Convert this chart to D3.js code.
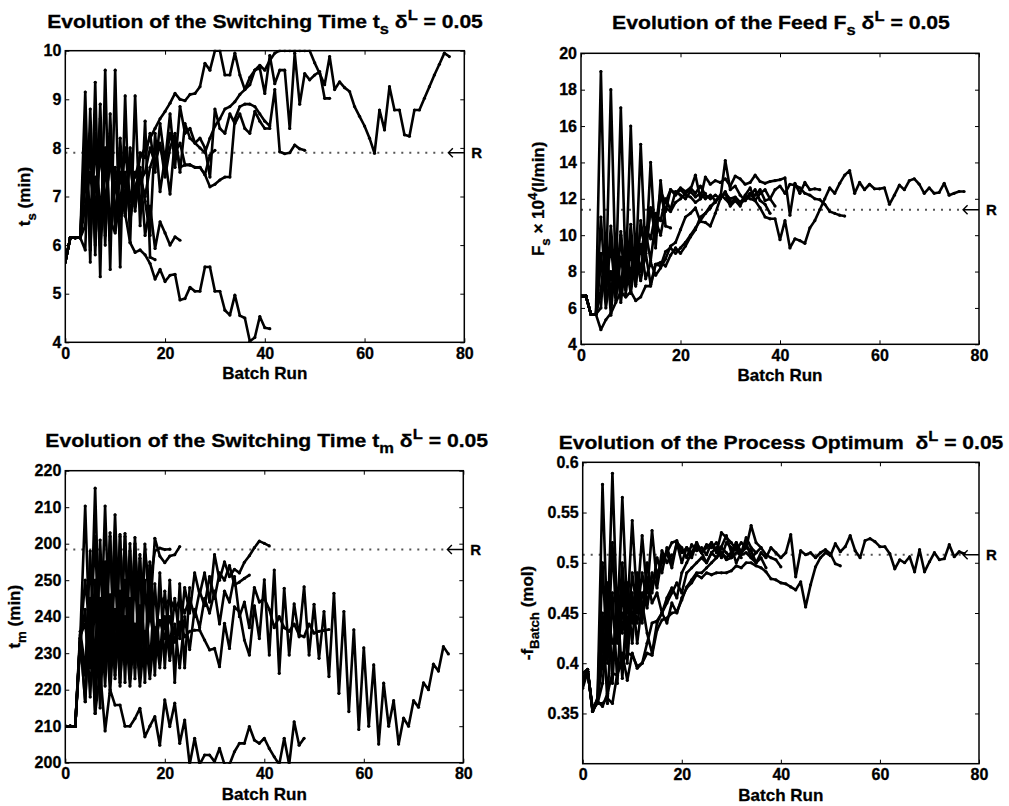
<!DOCTYPE html>
<html>
<head>
<meta charset="utf-8">
<script src="https://cdn.jsdelivr.net/npm/d3@7"></script>
<style>
body { margin: 0; background: #fff; }
text { white-space: pre; stroke: #000; stroke-width: 0.3px; }
</style>
</head>
<body>
<script>
// ---- data: one array per run, index = batch run ----
const tsRuns = [
  [5.65,6.15,6.15,6.15, 9.15,5.65,9.35,5.35,9.6,5.5,9.6,5.55,9.07,6.05,9.07,6.4, 8.55,5.75,5.7],
  [5.65,6.15,6.15,6.15, 6.4,8.3,6.0,8.6,6.2,8.3,6.4,8.0,6.6,7.8,6.7,7.6, 6.2,6.8,5.93,6.48,6.25,6.0,6.17,6.1],
  [5.65,6.15,6.15,6.15, 7.6,6.3,7.4,6.0,7.1,6.5,6.25,7.0,6.65,6.05,5.85,5.9, 5.8,5.62,5.3,5.5,5.25,5.38,5.4,4.87,4.9,5.13,5.05,5.05,5.55,5.55,5.05,5.05,4.66,4.56,4.97,4.55,4.5,4.02,4.1,4.53,4.3,4.28],
  [5.65,6.15,6.15,6.15, 8.1,6.5,8.3,6.6,8.0,6.4,7.6,6.8,8.0,6.9,7.5,7.3, 7.5,8.0,7.7,8.05,7.6,8.3,7.9,8.1,7.65,7.65,7.6,7.6,7.45,7.2,7.25,7.34,7.4,7.4, 8.6,8.85,8.9,8.9,8.85,8.7,8.55,8.45,9.2,7.92,7.88,7.9,8.06,7.98,7.95],
  [5.65,6.15,6.15,6.15, 5.9,8.8,5.8,8.9,6.0,8.7,6.3,8.2,6.6,8.0,6.9,7.9, 7.8,8.3,7.5,8.5,7.7,8.7,7.6,8.85,8.3,8.4,8.1,8.0,7.9,8.2,8.45,8.6,8.8,8.85,8.95,9.1,9.2, 9.3,9.6,9.64,9.12,9.9,9.32,9.6,9.6,8.4,9.95,8.9,9.53,9.4,9.5,9.57,9.02,9.02],
  [5.65,6.15,6.15,6.15, 7.2,7.8,6.7,7.9,6.9,7.7,7.1,7.5,7.2,7.6,7.4,7.8, 8.0,8.2,8.4,8.6,8.75,8.92,9.12,9.0,8.97,9.1,9.12,9.26,9.74,9.6,10,10,9.5,9.5,9.95,9.5,9.2,9.45,9.6,9.7,9.6,9.8,9.95,10,10,10,10,10,10,10,9.75,9.53,9.3,9.88,9.2,9.36,9.24,9.16,8.85,8.65,8.45,8.2,7.89,8.78,8.37,9.26,8.78,8.78,8.27,8.24,8.78,8.78,9.02,9.26,9.5,9.72,9.95,9.88],
  [5.65,6.15,6.15,6.15, 6.8,7.5,6.4,8.0,6.8,7.8,6.6,7.4,7.0,7.7,6.8,7.4, 7.0,7.6,7.9,8.1,7.4,8.0,8.3,7.5,8.5,8.2,8.1,8.2,8.0,7.4,8.8,8.4,8.3,8.7,8.5,8.7,8.4,8.3,8.75,8.55,8.4,8.4],
  [5.65,6.15,6.15,6.15, 8.4,5.9,8.2,6.3,7.7,6.1,7.3,6.6,7.5,6.5,7.2,7.5, 6.9,6.2,8.3,7.1,7.8,7.05,8.2,7.6,7.65,7.65,7.6,7.6,7.45,7.85,7.95]
];

const fsRuns = [
  [6.65,6.65,5.65,5.65, 19.0,7.2,18.0,7.5,17.0,7.9,16.0,8.2,15.0,8.8,14.0,9.3, 13.0,10.5,10.4],
  [6.65,6.65,5.65,5.65, 11.0,6.7,10.5,7.0,10.2,7.4,10.6,7.3,10.8,9.0,11.5,10.0, 12.2,11.3,12.5,12.3,12.6,12.4,12.6,12.3,12.7,12.2,12.0,12.2,12.0,12.4,11.8,12.0,11.8,12.1,12.0,11.9],
  [6.65,6.65,5.65,5.65, 4.8,5.35,5.7,6.3,6.9,6.6,6.9,6.4,6.6,7.2,7.2,8.4, 8.3,9.1,9.3,9.0,9.3,9.6,10.0,10.4,10.8,11.2,11.5,11.9,12.1,12.3,12.0,12.1,11.8,12.0,12.3,11.9,11.5,11.0,10.9,10.9,9.75,10.8,9.3,9.8,9.7,9.55,10.4,10.8,11.4,12.0,12.6,12.3,12.85,13.3,13.55,12.3,12.9,12.5,12.8,12.55,12.55,12.6,11.7,12.2,12.75,12.5,13.0,13.1,12.8,12.3,12.6,12.3,12.35,12.85,12.2,12.3,12.4,12.4],
  [6.65,6.65,5.65,5.65, 7.0,9.5,5.6,9.0,6.3,8.5,6.8,8.8,7.5,9.0,7.3,8.4, 8.5,8.3,8.9,9.3,9.0,9.4,9.9,10.3,11.0,11.2,11.6,11.8,12.2,12.0,11.7,11.9,11.6,12.2,12.6,11.9,12.3,12.5,12.0,12.5,12.7,12.3,12.8,12.75,12.6,12.3,12.2,12.0,11.95,11.7,11.3,11.2,11.1,11.05],
  [6.65,6.65,5.65,5.65, 6.0,10.0,6.5,9.5,7.0,9.8,7.4,9.5,8.0,10.2,8.6,10.8, 10.0,11.5,11.3,11.8,12.0,12.3,12.5,13.3,12.0,13.2,12.8,13.0,12.9,13.1,12.7,13.25,13.1,12.8,12.9,13.3,12.95,12.85,12.95,13.0,13.05,13.15,11.1,12.85,12.3,12.9,12.5,12.55,12.5],
  [6.65,6.65,5.65,5.65, 8.5,7.0,9.5,6.6,10.0,6.8,9.2,7.2,9.5,7.6,8.5,7.8, 8.2,8.7,9.4,9.6,10.3,11.0,11.2,11.5,10.75,10.7,10.5,11.2,12.0,14.1,12.5,12.7,12.2,11.9,12.3,12.2,12.5,11.9,12.0,11.6],
  [6.65,6.65,5.65,5.65, 9.0,6.0,8.0,6.4,8.8,7.0,9.8,8.0,10.4,9.2,11.5,10.5, 12.4,11.8,12.5,12.2,12.5,12.2,12.1,11.8,12.0,12.3],
  [6.65,6.65,5.65,5.65, 6.8,8.2,6.9,7.8,7.5,8.6,8.0,9.5,9.0,10.4,9.8,11.2, 10.8,12.0,11.4,12.4,12.2,12.0,12.4,12.1,12.3,12.0,12.2,11.9,12.1,12.3,11.6,11.9,11.8,11.9,12.2,12.5,11.9,11.7,11.2]
];

// t_m runs are stored on the plotted scale 200..280 (tick labels below wrap)
const tmRuns = [
  [210,210,210, 234,270.3,230,275.2,228,270.3,230,267.9,232,262.8,233,261.7,235,259.9,240,261.5,256.6,254.8,256.6,257,259.2],
  [210,210,210, 234,216.7,245,213.5,225,208.7,220,215.8,215.8,210,210,212.1,214.9,207.1,210,212.6,204.8,217.2,209.9,216.3,205.3,211.7,199.5,206.7,199.5,202.1,202.1,200.3,203.9,199.5,199.5,203.0,205.3,205.3,209.9,206.2,205.3,206.7,203.9,201.6,199.5,206.7,199.5,211.2,204.8,206.7],
  [210,210,210, 234,250,235,262,224,255,226,260,228,262,226,260,230,257,249,258,258.8,258.4,258.5],
  [210,210,210, 232,224,258,221,261,226,262,223,262.5,228,260,226,257,228,255,232,246,243,245,242,244.5,241,245,240,247,243,251,245,252,250,254,248.7,249.5,250.5,251.4],
  [210,210,210, 235,238,226,250,222,252,224,254,221,250,223,252,224,250,226,249,228,247,231,245,234,248,241,252,246,252,244,257,250,255,251,253,252,254.9,256.7,258.9,260.7,260.1,259.4],
  [210,210,210, 233,242,218,246,215,244,219,242,222,240,221,238,221,236,223,237,226,240,228,238,226,240,231,242,237,245,241,247,238,247,244,251,240,244,237,248,244,245,242,237,240,237,236,238,235,234.5,238,235.5,236,236.2,236.5],
  [210,210,210, 234.3,216.7,242,213.5,245,221,246,224,247,227,245,229,243,231,241,232.5,239,234,240,233,238.5,234.5,236,236.3,236.3,233.6,230.9,231.3,226.3,238.2,231.3,242.7,241.3,233.6,229.5,243,234,250.1,229.5,252.8,224.5,247.8,229.5,243.5,234.5,248.2,229.5,243.4,228.6,241.4,223.6,246.4,219,241.4,214,236.4,209.1,231.5,210,226.8,205.1,221.8,210,217,205.1,212.2,210,217,215.2,221.9,220,227,225.1,231.8,229.8],
  [210,210,210, 236,226,240,230,255,232,263,226,262,222,258,223,256,222,254,224,252,226,250,222,249,226,248]
];

const fbRuns = [
  [0.38,0.392,0.353,0.365, 0.578,0.43,0.589,0.44,0.565,0.45,0.542,0.46,0.527,0.47,0.532,0.48,0.512,0.50,0.508],
  [0.39,0.394,0.352,0.362, 0.357,0.37,0.39,0.388,0.41,0.383,0.41,0.395,0.4,0.42,0.44,0.442,0.45,0.44,0.46,0.45,0.465,0.475,0.48,0.488,0.485,0.49,0.488,0.49,0.49,0.49,0.492,0.497,0.495,0.5,0.5,0.497,0.495,0.491,0.484,0.483,0.48,0.479,0.476,0.473,0.481,0.456,0.478,0.496,0.505,0.51,0.507,0.519,0.511,0.516,0.527,0.512,0.505,0.522,0.524,0.521,0.516,0.516,0.509,0.494,0.503,0.5,0.506,0.491,0.513,0.491,0.501,0.51,0.503,0.504,0.518,0.506,0.511,0.509],
  [0.375,0.392,0.355,0.36, 0.36,0.365,0.36,0.39,0.40,0.41,0.408,0.397,0.4,0.41,0.408,0.433,0.443,0.445,0.45,0.451,0.463,0.476,0.483,0.49,0.49,0.495,0.5,0.505,0.51,0.503,0.505,0.51,0.508,0.51,0.505,0.51,0.515,0.508,0.505,0.503,0.496],
  [0.385,0.392,0.352,0.362, 0.45,0.36,0.47,0.38,0.48,0.40,0.47,0.42,0.46,0.43,0.41,0.44,0.45,0.46,0.47,0.48,0.47,0.49,0.495,0.50,0.505,0.50,0.51,0.505,0.515,0.51,0.505,0.52,0.51,0.515,0.512,0.50,0.51,0.505,0.515,0.51,0.505,0.51,0.528,0.486,0.512,0.508,0.51,0.505,0.51,0.513,0.509,0.499,0.497],
  [0.38,0.392,0.353,0.365, 0.50,0.40,0.52,0.42,0.50,0.43,0.49,0.45,0.49,0.46,0.48,0.49,0.50,0.51,0.52,0.522,0.51,0.515,0.505,0.52,0.51,0.515,0.52,0.51,0.53,0.525,0.52,0.513,0.52,0.515,0.537,0.52,0.515],
  [0.39,0.394,0.352,0.362, 0.42,0.48,0.38,0.47,0.43,0.48,0.44,0.49,0.45,0.50,0.47,0.505,0.49,0.515,0.50,0.52,0.515,0.505,0.518,0.512,0.515,0.508,0.52,0.512,0.516,0.527,0.51,0.515,0.505],
  [0.385,0.392,0.355,0.36, 0.38,0.43,0.40,0.46,0.385,0.47,0.42,0.48,0.44,0.485,0.46,0.47,0.45,0.465,0.475,0.465,0.49,0.50,0.51,0.515,0.51,0.518,0.515,0.52,0.51,0.505,0.51,0.52,0.51,0.52,0.505,0.50,0.505,0.495],
  [0.38,0.392,0.353,0.365, 0.40,0.45,0.42,0.43,0.45,0.42,0.465,0.44,0.47,0.455,0.49,0.475,0.505,0.51,0.495,0.52,0.50,0.515,0.51,0.52,0.51,0.50,0.51,0.515,0.505,0.52,0.515,0.50,0.51,0.525,0.515,0.51]
];

// reference (R) levels
const tsRef = 7.9, fsRef = 11.4, tmRef = 258.4, fbRef = 0.508;

// ticks
const xTicks = [0, 20, 40, 60, 80];
const tsTicks = [4, 5, 6, 7, 8, 9, 10];
const fsTicks = [4, 6, 8, 10, 12, 14, 16, 18, 20];
const tmTicks = [200, 210, 220, 230, 240, 250, 260, 270, 280];
const tmTickLabels = ["200", "210", "220", "230", "240", "250", "200", "210", "220"];
const fbTicks = [0.35, 0.4, 0.45, 0.5, 0.55, 0.6];

// ---- layout ----
const font = "'Liberation Sans', Arial, Helvetica, sans-serif";
const svg = d3.select("body").append("svg")
  .attr("width", 1009).attr("height", 806)
  .style("font-family", font).style("font-weight", "bold");

const panels = [
  { runs: tsRuns, ref: tsRef, box: [65.3, 50.7, 464.3, 342.3], y: [4, 10], ticks: tsTicks, fmt: d => d,
    title: [["Evolution of the Switching Time t", ""], ["s", "sub"], [" \u03b4", ""], ["L", "sup"], [" = 0.05", ""]],
    titleX: 265, titleY: 28, titleW: 436,
    ylabel: [["t", ""], ["s", "sub"], [" (min)", ""]], ylabelX: 30 },
  { runs: fsRuns, ref: fsRef, box: [581, 53.3, 979, 344.3], y: [4, 20], ticks: fsTicks, fmt: d => d,
    title: [["Evolution of the Feed F", ""], ["s", "sub"], [" \u03b4", ""], ["L", "sup"], [" = 0.05", ""]],
    titleX: 781, titleY: 29, titleW: 338,
    ylabel: [["F", ""], ["s", "sub"], [" \u00d7 10", ""], ["4", "sup"], ["(l/min)", ""]], ylabelX: 544 },
  { runs: tmRuns, ref: tmRef, box: [65.3, 470.7, 463.3, 762.7], y: [200, 280], ticks: tmTicks, fmt: (d, i) => tmTickLabels[i],
    title: [["Evolution of the Switching Time t", ""], ["m", "sub"], [" \u03b4", ""], ["L", "sup"], [" = 0.05", ""]],
    titleX: 266.7, titleY: 447, titleW: 443,
    ylabel: [["t", ""], ["m", "sub"], [" (min)", ""]], ylabelX: 20 },
  { runs: fbRuns, ref: fbRef, box: [582.7, 462.3, 979, 763.7], y: [0.3, 0.6], ticks: fbTicks, fmt: d => String(+d.toFixed(2)),
    title: [["Evolution of the Process Optimum  \u03b4", ""], ["L", "sup"], [" = 0.05", ""]],
    titleX: 781, titleY: 449, titleW: 445,
    ylabel: [["-f", ""], ["Batch", "sub"], [" (mol)", ""]], ylabelX: 533 }
];

function richText(text, parts, size) {
  let shift = 0;
  parts.forEach(([t, k]) => {
    const target = k === "sub" ? 0.33 * size : k === "sup" ? -0.42 * size : 0;
    text.append("tspan")
      .attr("dy", target - shift)
      .attr("font-size", k ? size * 0.78 : size)
      .text(t);
    shift = target;
  });
}

panels.forEach((p, pi) => {
  const [x0, y0, x1, y1] = p.box;
  const x = d3.scaleLinear().domain([0, 80]).range([x0, x1]);
  const y = d3.scaleLinear().domain(p.y).range([y1, y0]);
  const g = svg.append("g");

  const clipId = "clip" + pi;
  svg.append("clipPath").attr("id", clipId)
    .append("rect").attr("x", x0).attr("y", y0 - 1).attr("width", x1 - x0).attr("height", y1 - y0 + 2);

  // reference line (dotted) and arrow
  const ry = y(p.ref);
  g.append("line")
    .attr("x1", x(0)).attr("x2", x(76.3)).attr("y1", ry).attr("y2", ry)
    .attr("stroke", "#555").attr("stroke-width", 2).attr("stroke-dasharray", "2,6");
  g.append("path")
    .attr("d", `M${x(80)},${ry}H${x(76.8)}M${x(76.8) + 4.5},${ry - 4.5}L${x(76.8)},${ry}L${x(76.8) + 4.5},${ry + 4.5}`)
    .attr("fill", "none").attr("stroke", "#000").attr("stroke-width", 1.4);
  g.append("text").attr("x", x(80) + 7).attr("y", ry + 5.5)
    .attr("font-size", 15).text("R");

  // runs
  const line = d3.line().x((d, i) => x(i)).y(d => y(d));
  const runs = g.append("g").attr("clip-path", `url(#${clipId})`);
  runs.selectAll("path").data(p.runs).join("path")
    .attr("d", line)
    .attr("fill", "none").attr("stroke", "#000")
    .attr("stroke-width", 2.6).attr("stroke-linejoin", "round");
  p.runs.forEach(r => {
    runs.append("g").selectAll("circle").data(r).join("circle")
      .attr("cx", (d, i) => x(i)).attr("cy", d => y(d)).attr("r", 1.6).attr("fill", "#000");
  });

  // axes with inward ticks on all four sides
  const styleAxis = a => {
    a.select(".domain").remove();
    a.selectAll(".tick line").attr("stroke", "#000").attr("stroke-width", 1);
    a.selectAll("text").attr("font-size", 16).attr("font-family", font).attr("font-weight", "bold").attr("fill", "#000");
  };
  g.append("g").attr("transform", `translate(0,${y1})`)
    .call(d3.axisBottom(x).tickValues(xTicks).tickSizeInner(-4).tickSizeOuter(0).tickPadding(5))
    .call(styleAxis);
  g.append("g").attr("transform", `translate(0,${y0})`)
    .call(d3.axisTop(x).tickValues(xTicks).tickSizeInner(-4).tickSizeOuter(0).tickFormat(""))
    .call(styleAxis);
  g.append("g").attr("transform", `translate(${x0},0)`)
    .call(d3.axisLeft(y).tickValues(p.ticks).tickSizeInner(-4).tickSizeOuter(0).tickPadding(4).tickFormat(p.fmt))
    .call(styleAxis);
  g.append("g").attr("transform", `translate(${x1},0)`)
    .call(d3.axisRight(y).tickValues(p.ticks).tickSizeInner(-4).tickSizeOuter(0).tickFormat(""))
    .call(styleAxis);
  g.append("rect").attr("x", x0).attr("y", y0).attr("width", x1 - x0).attr("height", y1 - y0)
    .attr("fill", "none").attr("stroke", "#000").attr("stroke-width", 1.5);

  // x label
  g.append("text").attr("x", (x0 + x1) / 2).attr("y", y1 + 37)
    .attr("text-anchor", "middle").attr("font-size", 17).text("Batch Run");

  // y label
  const yl = g.append("text")
    .attr("transform", `translate(${p.ylabelX},${(y0 + y1) / 2}) rotate(-90)`)
    .attr("text-anchor", "middle");
  richText(yl, p.ylabel, 17);

  // title, stretched to the measured width of the reference
  const tg = g.append("g");
  const tt = tg.append("text").attr("text-anchor", "middle");
  richText(tt, p.title, 19);
  const w = tt.node().getComputedTextLength();
  tg.attr("transform", `translate(${p.titleX},${p.titleY}) scale(${p.titleW / w},1)`);
});
</script>
</body>
</html>
